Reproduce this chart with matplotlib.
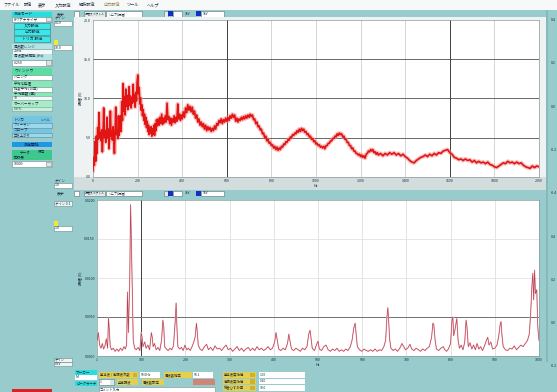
import numpy as np
import matplotlib
matplotlib.use('Agg')
import matplotlib.pyplot as plt
from matplotlib.patches import Rectangle

# ---------------- data ----------------
top_xticks = [0, 200, 400, 600, 800, 1000, 1200, 1400, 1600, 1800, 2000]
top_xticklabels = ["0", "200", "400", "600", "800", "1000", "1200", "1400", "1600", "1800", "2000"]
top_yticks = [0, 5, 10, 15, 20]
top_yticklabels = ["0.0", "5.0", "10.0", "15.0", "20.0"]
top_cursors_hz = [600, 1600]

top_spectrum = [
    (0,0.8),(3,2.5),(6,1.5),(9,4.5),(12,2.0),(15,5.2),(18,3.0),(21,6.3),(24,4.8),(27,8.2),(30,5.0),(33,5.6),
    (36,4.6),(39,6.0),(42,3.2),(45,5.4),(48,8.8),(51,5.1),(54,5.9),(57,4.4),(60,5.6),(63,7.6),(66,5.0),(69,6.1),
    (72,3.6),(75,5.5),(78,8.4),(81,5.2),(84,5.8),(87,4.7),(90,6.4),(93,5.1),(96,3.0),(99,5.7),(102,8.9),(105,5.4),
    (108,6.0),(111,4.9),(114,7.8),(117,5.3),(120,6.2),(123,7.8),(126,5.8),(129,9.6),(132,7.2),(135,11.9),(138,8.4),
    (141,10.2),(144,7.9),(147,11.2),(150,9.0),(153,10.4),(156,8.6),(159,9.8),(162,11.5),(165,9.1),(168,10.3),
    (171,8.8),(174,10.0),(177,9.4),(180,11.8),(183,9.6),(186,10.5),(189,8.9),(192,10.8),(195,9.7),(198,12.2),
    (201,13.0),(204,10.6),(207,11.4),(210,9.3),(213,10.1),(216,8.5),(219,9.2),(222,7.8),(225,8.6),(228,7.2),
    (231,8.0),(234,6.7),(237,7.6),(240,6.3),(243,7.1),(246,5.8),(249,6.6),(252,5.4),(255,6.3),(258,5.6),(261,6.4),
    (264,5.2),(267,6.1),(270,5.5),(273,6.6),(276,5.3),(279,6.8),(282,5.9),(285,7.3),(288,6.5),(292,7.4),(296,6.6),
    (300,7.6),(304,6.8),(308,8.0),(312,6.7),(316,7.5),(320,6.9),(324,7.8),(328,7.0),(332,9.4),(336,7.3),(340,7.7),
    (344,6.8),(348,7.5),(352,6.6),(356,7.4),(360,7.0),(364,7.8),(368,6.9),(372,7.6),(376,7.1),(380,9.3),(384,7.4),
    (388,8.0),(392,7.2),(396,7.9),(400,7.4),(405,8.3),(410,7.6),(415,8.8),(420,8.2),(425,9.2),(430,8.5),(435,9.0),
    (440,8.3),(445,8.9),(450,8.0),(455,8.4),(460,7.5),(465,7.9),(470,7.0),(475,7.4),(480,6.6),(485,7.0),(490,6.4),
    (495,6.8),(500,6.1),(505,6.6),(510,5.9),(515,6.4),(520,6.0),(525,6.3),(530,5.8),(535,6.2),(540,5.9),(545,6.5),
    (550,6.1),(555,6.8),(560,6.6),(565,7.2),(570,6.9),(575,7.4),(580,6.8),(585,7.3),(590,7.0),(595,7.5),(600,7.1),
    (605,7.6),(610,7.2),(615,7.8),(620,7.5),(625,8.0),(630,7.6),(635,7.9),(640,7.1),(645,7.5),(650,7.0),(655,7.4),
    (660,7.2),(665,7.6),(670,7.3),(675,7.7),(680,7.4),(685,7.8),(690,7.5),(695,7.9),(700,7.6),(705,8.0),(710,7.7),
    (715,7.9),(720,7.3),(725,7.4),(730,6.8),(735,7.0),(740,6.4),(745,6.5),(750,6.0),(755,6.1),(760,5.5),(765,5.6),
    (770,5.0),(775,5.2),(780,4.6),(785,4.8),(790,4.3),(795,4.4),(800,4.0),(805,4.1),(810,3.7),(815,3.9),(820,3.5),
    (825,3.8),(830,3.4),(835,3.7),(840,3.5),(845,3.9),(850,3.8),(855,4.2),(860,4.1),(865,4.5),(870,4.4),(875,4.8),
    (880,4.7),(885,5.1),(890,5.0),(895,5.4),(900,5.3),(905,5.6),(910,5.5),(915,5.9),(920,5.7),(925,6.1),(930,5.8),
    (935,6.2),(940,5.9),(945,6.1),(950,5.7),(955,5.8),(960,5.4),(965,5.5),(970,5.1),(975,5.2),(980,4.8),(985,4.9),
    (990,4.5),(995,4.6),(1000,4.2),(1005,4.3),(1010,4.0),(1015,4.1),(1020,3.8),(1025,3.9),(1030,3.7),(1035,3.9),
    (1040,3.6),(1045,4.0),(1050,4.0),(1055,4.3),(1060,4.3),(1065,4.6),(1070,4.6),(1075,4.9),(1080,4.9),(1085,5.2),
    (1090,5.1),(1095,5.5),(1100,5.3),(1105,5.6),(1110,5.4),(1115,5.5),(1120,5.1),(1125,5.2),(1130,4.8),(1135,4.8),
    (1140,4.4),(1145,4.4),(1150,4.0),(1155,4.0),(1160,3.6),(1165,3.7),(1170,3.3),(1175,3.3),(1180,3.0),(1185,3.0),
    (1190,2.8),(1195,2.9),(1200,2.6),(1205,2.8),(1210,2.5),(1215,2.7),(1220,2.4),(1225,2.9),(1230,3.0),(1235,3.3),
    (1240,3.2),(1245,3.5),(1250,3.3),(1255,3.5),(1260,3.1),(1265,3.2),(1270,2.9),(1275,3.1),(1280,2.8),(1290,3.0),
    (1300,2.7),(1310,3.0),(1320,2.8),(1330,3.1),(1340,2.9),(1350,3.1),(1360,2.8),(1370,3.0),(1380,2.7),(1390,2.9),
    (1400,2.6),(1410,2.4),(1420,2.1),(1430,1.9),(1440,1.8),(1450,2.1),(1460,2.3),(1470,2.5),(1480,2.6),(1490,2.8),
    (1500,2.6),(1510,2.9),(1520,2.7),(1530,3.0),(1540,2.8),(1550,3.1),(1560,3.0),(1570,3.3),(1580,3.4),(1590,3.5),
    (1600,3.1),(1610,2.9),(1620,2.5),(1630,2.4),(1640,2.2),(1650,2.3),(1660,2.1),(1670,2.3),(1680,2.1),(1690,2.2),
    (1700,1.9),(1710,2.1),(1720,1.8),(1730,2.0),(1740,1.8),(1750,1.9),(1760,1.7),(1770,1.9),(1780,1.6),(1790,1.5),
    (1800,1.3),(1810,1.2),(1820,1.4),(1830,1.6),(1840,1.8),(1850,1.7),(1860,2.0),(1870,1.8),(1880,1.9),(1890,1.7),
    (1900,1.9),(1910,1.7),(1920,1.8),(1930,1.5),(1940,1.3),(1950,1.2),(1960,1.1),(1970,1.4),(1980,1.2),(1990,1.4),
    (2000,1.3),
]

bot_xticks = [0, 100, 200, 300, 400, 500, 600, 700, 800, 900, 1000]
bot_xticklabels = ["1", "100", "200", "300", "400", "500", "600", "700", "800", "900", "1000"]
bot_yticks = [0.0, 0.005, 0.010, 0.015, 0.020]
bot_yticklabels = ["0.0000", "0.0050", "0.0100", "0.0150", "0.0200"]
bot_cursor_x = 100
bot_threshold = 0.005

# (order, amplitude x 1e-3)
bot_spectrum = [
    (0,2.0),(3,3.0),(6,1.4),(9,1.0),(12,1.6),(15,0.9),(18,1.3),(21,2.2),(24,1.0),(26,4.9),(28,3.2),(30,1.2),
    (33,0.8),(37,1.0),(41,0.6),(45,0.9),(49,0.6),(53,1.0),(57,0.7),(61,1.2),(64,0.9),(67,1.4),(69,8.2),(71,3.0),
    (74,9.5),(76,19.4),(78,14.0),(80,7.8),(82,2.0),(85,1.0),(89,0.8),(93,1.1),(97,0.7),(100,3.0),(102,2.4),
    (104,1.2),(108,1.8),(111,1.0),(115,1.4),(119,0.8),(123,3.0),(125,2.4),(127,1.2),(130,1.6),(134,0.8),(138,1.1),
    (142,0.7),(146,2.0),(149,4.6),(151,3.8),(153,1.2),(157,0.9),(161,0.7),(165,1.0),(169,0.8),(173,1.3),(177,4.5),
    (179,6.8),(181,3.4),(183,1.2),(187,0.9),(191,1.1),(195,0.7),(199,1.4),(203,0.8),(207,1.0),(211,0.7),(215,1.2),
    (219,1.8),(222,2.4),(225,4.2),(227,3.0),(229,1.4),(233,0.9),(238,0.7),(243,1.2),(248,1.5),(252,0.8),(257,1.1),
    (262,0.7),(267,1.3),(272,0.9),(277,1.0),(282,0.7),(287,1.1),(292,1.4),(297,0.8),(302,1.0),(307,0.6),(312,0.9),
    (317,1.2),(322,0.7),(327,1.0),(332,0.6),(337,0.9),(342,1.1),(347,0.7),(352,1.0),(357,0.7),(362,1.2),(367,0.8),
    (372,1.0),(377,0.7),(382,0.9),(387,1.2),(392,0.8),(397,1.0),(402,1.8),(405,3.0),(408,2.0),(411,0.9),(416,0.7),
    (421,1.0),(426,0.8),(431,1.6),(434,2.8),(437,1.8),(440,0.9),(445,0.7),(450,1.0),(455,0.8),(460,0.6),(465,1.0),
    (470,0.8),(475,1.2),(479,2.8),(482,3.3),(484,2.4),(487,1.0),(492,0.7),(497,1.5),(500,1.9),(503,0.9),(508,0.7),
    (513,1.2),(518,1.4),(523,0.8),(528,0.6),(533,0.9),(538,0.7),(543,1.0),(548,0.6),(553,0.8),(558,0.6),(563,0.9),
    (568,0.7),(573,1.2),(577,2.0),(581,3.6),(584,4.2),(586,3.0),(589,1.2),(594,0.8),(599,0.6),(604,0.9),(609,0.7),
    (614,0.6),(619,0.8),(624,0.6),(629,0.9),(634,0.6),(639,0.8),(644,0.7),(649,1.2),(653,2.0),(656,5.0),(658,6.2),
    (660,4.4),(662,2.2),(665,1.0),(670,0.7),(675,0.9),(680,0.6),(685,1.0),(690,1.6),(694,1.2),(698,0.8),(703,1.0),
    (708,1.5),(712,0.9),(717,0.7),(722,1.0),(727,0.8),(732,0.6),(737,0.9),(742,0.7),(747,1.0),(752,1.2),(757,2.4),
    (760,4.2),(762,4.0),(765,2.0),(768,0.9),(773,0.7),(778,1.0),(783,1.2),(787,0.8),(791,0.6),(795,0.9),(800,1.6),
    (803,4.6),(805,5.0),(807,2.6),(810,3.4),(814,4.8),(817,2.0),(820,1.0),(824,1.4),(828,0.8),(832,1.8),(835,4.6),
    (837,3.8),(840,1.2),(844,1.7),(848,0.9),(852,1.4),(856,0.8),(860,1.6),(864,0.9),(868,1.2),(872,0.7),(876,1.2),
    (881,2.0),(884,2.4),(887,1.4),(891,1.8),(895,0.9),(900,1.0),(905,1.4),(909,2.6),(912,4.0),(914,4.4),(916,2.8),
    (919,1.2),(924,0.8),(929,0.7),(934,1.0),(939,0.9),(944,1.3),(949,0.8),(954,1.1),(959,1.4),(964,1.2),(969,1.6),
    (974,2.0),(978,2.8),(981,5.3),(984,9.0),(986,10.6),(988,7.2),(990,11.0),(992,8.0),(995,8.5),(997,4.0),
    (999,2.5),(1000,2.0),
]

right_scale_labels = ["0.4", "0.2", "0.0", "-0.2", "-0.4", "0.4", "0.2", "0.0", "-0.2"]

menu_items = ["ファイル", "設定", "表示", "入力設定", "解析設定", "出力設定", "ツール", "ヘルプ"]

# ---------------- figure ----------------
plt.rcParams['font.family'] = ['Noto Sans CJK JP', 'DejaVu Sans']
W, H = 557, 392
TEAL = '#98cccc'
fig = plt.figure(figsize=(W / 100, H / 100), dpi=100)
fig.patch.set_facecolor(TEAL)
TXT = '#1c2c40'


def box(x, y, w, h, fc, ec='none', lw=0.4, z=1):
    fig.add_artist(Rectangle((x / W, 1 - (y + h) / H), w / W, h / H, transform=fig.transFigure,
                             facecolor=fc, edgecolor=ec, linewidth=lw, zorder=z))


def txt(x, y, s, size=3.0, color=TXT, ha='left', va='center', rot=0, z=3):
    fig.text(x / W, 1 - y / H, s, fontsize=size, color=color, ha=ha, va=va, rotation=rot, zorder=z)


def axes_px(x0, y0, x1, y1):
    a = fig.add_axes([x0 / W, 1 - y1 / H, (x1 - x0) / W, (y1 - y0) / H])
    a.set_zorder(5)
    return a


# menu bar
box(0, 0, W, 10, '#f7f9f9')
menu_x = [3, 24, 38, 55, 79, 104, 127, 147]
for mx, m in zip(menu_x, menu_items):
    txt(mx, 5, m, size=3.0, color='#8a7a50' if m == "出力設定" else TXT)

# left control panel
box(12, 11.5, 40, 5, '#26dede'); txt(14, 14, "測定モード", 2.8)
box(12, 16.5, 40, 5, 'white', '#6a8a8a'); txt(14, 19, "FFTアナライザ", 2.6)
box(46, 17, 5, 4, '#dde6e6', '#6a8a8a')
for yy, s in zip([22.5, 29, 36], ["入力設定", "出力設定", "トリガ 設定"]):
    box(14, yy, 36, 6, '#3ae6e6', '#3c7c7c'); txt(32, yy + 3, s, 2.8, ha='center')
box(12, 43.5, 40, 5, '#b6e4e4'); txt(14, 46, "周波数レンジ", 2.6)
box(12, 49, 40, 4.5, '#f4f8f8', '#7a9a9a'); txt(14, 51.3, "2kHz", 2.6)
box(12, 53.5, 40, 6, '#b6e4e4'); txt(14, 56.5, "周波数分解能 (Hz)", 2.6)
box(12, 60, 40, 5.5, 'white', '#6a8a8a'); txt(14, 62.8, "0.250", 2.6)
box(46, 60.5, 5, 4.5, '#dde6e6', '#6a8a8a')
box(12, 68, 40, 6.5, '#58dea0'); txt(14, 71, "ウィンドウ", 2.8)
box(12, 74.5, 40, 5, 'white', '#6a8a8a'); txt(14, 77, "ハニング", 2.6)
box(12, 81, 40, 30, '#86e8b6')
txt(14, 84, "平均化処理", 2.6)
box(12, 87, 40, 4.5, 'white', '#6a8a8a'); txt(14, 89.2, "指数平均 (10回)", 2.4)
txt(14, 93.5, "平均回数 (回)", 2.6)
box(12, 96, 40, 4, '#f4f8f8', '#7a9a9a'); txt(14, 98, "10", 2.6)
box(12, 101, 40, 10, '#a8ecc8'); txt(14, 104, "オーバーラップ", 2.6)
box(12, 107, 40, 4, '#c8f0dc', '#7a9a9a'); txt(14, 109, "50 %", 2.4)
box(12, 116, 40, 22, '#74c6e2')
txt(14, 119.5, "トリガ", 2.6); txt(40, 119.5, "レベル", 2.4)
box(12, 123, 40, 4.5, '#9ad8ee', '#6a8a8a'); txt(14, 125.2, "フリーラン", 2.4)
txt(14, 130, "スロープ", 2.6)
box(12, 133, 40, 4.5, '#9ad8ee', '#6a8a8a'); txt(14, 135.2, "立ち上がり", 2.4)
box(12, 141.5, 40, 6, '#1c98e6'); txt(32, 144.5, "測定開始", 2.8, ha='center', color='#0a1a40')
box(12, 149.5, 40, 6, '#3ec88e'); txt(20, 152.5, "データ", 2.6); txt(38, 152.5, "保存", 2.6)
box(12, 155.5, 40, 5, '#3ec88e'); txt(14, 158, "記録長", 2.6)
box(12, 161, 40, 5.5, 'white', '#6a8a8a'); txt(14, 163.8, "10000", 2.6)
box(46, 161.5, 5, 4.5, '#dde6e6', '#6a8a8a')

# second column boxes
txt(55, 18.5, "ゲイン", 2.6)
box(54, 21, 18, 4.5, 'white', '#6a8a8a'); txt(55, 23.2, "0.1V", 2.6)
box(54, 40.5, 4.5, 4.5, '#f2ea30')
box(54, 45.5, 18, 4.5, 'white', '#6a8a8a'); txt(55, 47.8, "10.0", 2.6)
txt(55, 181, "ゲイン", 2.6)
box(54, 183, 18, 4.5, 'white', '#6a8a8a'); txt(55, 185.2, "1.0", 2.6)
box(54, 201, 18, 5, '#eef4f4', '#6a8a8a'); txt(55, 203.5, "ゲイン 0.1", 2.4)
box(54, 221, 4.5, 4.5, '#f2ea30')
box(54, 226, 18, 4.5, 'white', '#6a8a8a'); txt(55, 228.2, "1.0", 2.6)
box(54, 358, 18, 4, '#eef4f4', '#6a8a8a'); txt(55, 360, "ゲイン", 2.4)
box(54, 362, 18, 4, '#eef4f4', '#6a8a8a'); txt(55, 364, "0.1V", 2.4)


def toolbar(y0):
    txt(57, y0 + 3, "表示", 2.8)
    box(74, y0, 5, 5.5, 'white', '#607070')
    box(84, y0, 21, 5.5, '#e6ecec', '#607070'); txt(85, y0 + 2.8, "振幅スペクトル", 2.1)
    box(106, y0, 36, 5.5, 'white', '#607070'); txt(108, y0 + 2.8, "リニア(振幅)", 2.2)
    box(164, y0, 4, 5.5, '#e6ecec', '#607070')
    box(168, y0 + 0.5, 5, 4.5, '#1030c8')
    box(173, y0, 9, 5.5, 'white', '#607070')
    txt(185, y0 + 2.8, "1kV", 2.4)
    box(196, y0 + 0.5, 5, 4.5, '#1030c8')
    box(201, y0, 23, 5.5, 'white', '#607070'); txt(203, y0 + 2.8, "1kV", 2.4)


toolbar(11)
toolbar(190.5)

# top plot panel
box(74, 17, 472, 173, '#eef2f2')
box(74, 177, 472, 13, '#d4dddd')
box(546, 10, 2, 352, '#84baba')
for i, s in enumerate(right_scale_labels):
    txt(551, 20 + i * 43.3, s, 2.6)

# ---------------- top axes ----------------
ax1 = axes_px(93, 20, 539, 177)
tf, tl = np.array(top_spectrum).T
ax1.set_facecolor('white')
ax1.set_xlim(top_xticks[0], top_xticks[-1])
ax1.set_ylim(top_yticks[0], top_yticks[-1])
for xv in top_xticks[1:-1]:
    ax1.axvline(xv, color='#cfcfcf', lw=0.6, zorder=1)
for yv in top_yticks[1:-1]:
    ax1.axhline(yv, color='#505050', lw=0.6, zorder=1)
for xv in top_cursors_hz:
    ax1.axvline(xv, color='#404040', lw=0.7, zorder=1)
ax1.plot(tf, tl, color='#f29090', lw=3.0, alpha=0.55, zorder=2)
ax1.plot(tf, tl, color='#e21414', lw=1.2, zorder=3)
ax1.set_xticks(top_xticks)
ax1.set_xticklabels(top_xticklabels)
ax1.set_yticks(top_yticks)
ax1.set_yticklabels(top_yticklabels)
ax1.tick_params(length=0, labelsize=2.6, pad=1.5, colors=TXT)
ax1.set_xlabel("Hz", fontsize=2.6, labelpad=0.5, color=TXT)
ax1.set_ylabel("振幅 (V)", fontsize=2.8, labelpad=1.5, color=TXT)
for sp in ax1.spines.values():
    sp.set_color('#8a9a9a'); sp.set_linewidth(0.5)

# ---------------- bottom axes ----------------
ax2 = axes_px(97, 200, 539, 356)
bx, bv = np.array(bot_spectrum).T
ax2.set_facecolor('white')
ax2.set_xlim(bot_xticks[0], bot_xticks[-1])
ax2.set_ylim(bot_yticks[0], bot_yticks[-1])
for xv in bot_xticks[1:-1]:
    ax2.axvline(xv, color='#dedede', lw=0.6, zorder=1)
for yv in bot_yticks[1:-1]:
    ax2.axhline(yv, color='#e2e2e2', lw=0.6, zorder=1)
ax2.axvline(bot_cursor_x, color='#404040', lw=0.7, zorder=1)
ax2.axhline(bot_threshold, color='#707070', lw=0.7, zorder=1)
ax2.plot(bx, bv * 1e-3, color='#f0c0c6', lw=0.9, zorder=2)
ax2.plot(bx, bv * 1e-3, color='#b83c50', lw=0.45, zorder=3)
ax2.set_xticks(bot_xticks)
ax2.set_xticklabels(bot_xticklabels)
ax2.set_yticks(bot_yticks)
ax2.set_yticklabels(bot_yticklabels)
ax2.tick_params(length=0, labelsize=2.6, pad=1.5, colors=TXT)
ax2.set_xlabel("Hz", fontsize=2.6, labelpad=0.3, color=TXT)
ax2.set_ylabel("振幅 (V)", fontsize=2.8, labelpad=1.5, color=TXT)
for sp in ax2.spines.values():
    sp.set_color('#8a9a9a'); sp.set_linewidth(0.5)

# ---------------- bottom controls ----------------
box(75, 370, 22, 5, '#26dede'); txt(76, 372.5, "マーカー", 2.6)
box(75, 375, 22, 5, 'white'); txt(76, 377.5, "M", 2.6)
box(75, 380.5, 22, 5, '#26dede'); txt(76, 383, "ピークサーチ", 2.4)
YEL = '#e6cf4a'
box(99, 372, 39, 5.5, YEL); txt(100, 374.8, "基本波 / 高調波次数", 2.4)
box(133, 372.5, 4, 4.5, '#cfb030')
box(140, 372, 20, 5.5, 'white'); txt(141, 374.8, "50.0Hz", 2.4)
box(164, 372, 28, 5.5, YEL); txt(165, 374.8, "周波数補正", 2.4)
box(193, 372, 20, 5.5, 'white'); txt(194, 374.8, "50.1", 2.4)
box(99, 379, 15, 6, 'white', '#607070'); txt(100, 382, "1", 2.4)
box(110, 379.5, 4, 5, '#dde6e6')
box(117, 379, 21, 6, YEL); txt(118, 382, "全高調波", 2.4)
box(142, 379, 22, 6, YEL); txt(143, 382, "周波数設定", 2.4)
box(193, 379, 22, 6, '#d08676')
box(99, 386.5, 116, 5.5, 'white', '#7a8a8a'); txt(100, 389.2, "コメント入力", 2.4)
for i, (lab, val) in enumerate(zip(["基本波実効値", "高調波実効値", "総合ひずみ率"], ["1.00", "0.10", "10.0"])):
    yy = 372 + i * 6.5
    box(223, yy, 33, 5.5, YEL); txt(224, yy + 2.8, lab, 2.4)
    box(250, yy + 0.5, 5, 4.5, '#cfb030')
    box(259, yy, 46, 5.5, 'white'); txt(260, yy + 2.8, val, 2.4)
box(12, 388.5, 40, 4, '#e02020')

fig.savefig('out.png', dpi=100, facecolor=TEAL)
